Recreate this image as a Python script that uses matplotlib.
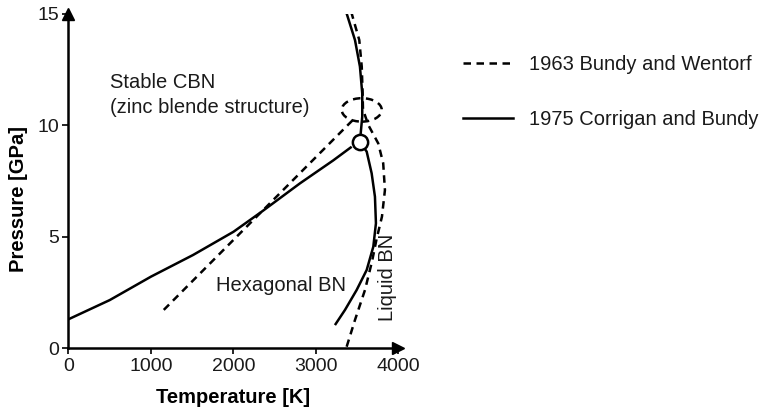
import matplotlib.pyplot as plt
from matplotlib.lines import Line2D
from matplotlib.patches import Ellipse

plt.rcParams['font.family'] = ['Liberation Sans', 'DejaVu Sans']

# 1975 Corrigan and Bundy (solid)
cb_low_T = [0, 500, 1000, 1510, 2000, 2342, 2806, 3210, 3433]
cb_low_P = [1.30, 2.16, 3.21, 4.18, 5.22, 6.12, 7.39, 8.42, 9.03]
cb_melt_T = [3230, 3352, 3493, 3615, 3695, 3727, 3715, 3675, 3615, 3533,
             3561, 3561, 3533, 3473, 3372]
cb_melt_P = [1.04, 1.72, 2.61, 3.51, 4.55, 5.60, 6.79, 7.84, 8.81, 9.26,
             10.38, 11.42, 12.62, 13.81, 15.0]
triple_T = 3533
triple_P = 9.26

# 1963 Bundy and Wentorf (dashed)
bw_line_T = [1155, 3480]
bw_line_P = [1.72, 10.35]
bw_melt_T = [3372, 3473, 3594, 3680, 3735, 3800, 3836, 3815, 3755, 3635,
             3570, 3565, 3555, 3525, 3433]
bw_melt_P = [0.07, 1.27, 2.61, 3.9, 4.9, 5.9, 7.09, 8.29, 9.18, 10.0,
             10.7, 11.5, 12.62, 13.81, 15.0]
ell_T, ell_P, ell_w, ell_h = 3555, 10.68, 485, 1.05

fig = plt.figure(figsize=(7.61, 4.13), dpi=100)
ax = fig.add_axes([0.09, 0.1567, 0.4336, 0.8106])

lw = 1.8
dash = (3, 2.2)
ax.plot(cb_low_T, cb_low_P, color='black', lw=lw, solid_capstyle='butt')
ax.plot(cb_melt_T, cb_melt_P, color='black', lw=lw, solid_capstyle='butt')
ax.plot(bw_line_T, bw_line_P, color='black', lw=lw, dashes=dash)
ax.plot(bw_melt_T, bw_melt_P, color='black', lw=lw, dashes=dash)
ax.add_patch(Ellipse((ell_T, ell_P), ell_w, ell_h, fill=False, ec='black',
                     lw=lw, ls=(0, dash)))
ax.plot(triple_T, triple_P, 'o', ms=11, mfc='white', mec='black', mew=1.8, zorder=5)

fs = 14.5
txt = dict(fontsize=fs, color='#1a1a1a')
ax.text(505, 11.93, 'Stable CBN', va='center', ha='left', **txt)
ax.text(505, 10.81, '(zinc blende structure)', va='center', ha='left', **txt)
ax.text(2582, 2.81, 'Hexagonal BN', va='center', ha='center', **txt)
ax.text(3870, 3.19, 'Liquid BN', va='center', ha='center', rotation=90, **txt)

ax.set_xlim(0, 4000)
ax.set_ylim(0, 15)
ax.spines['top'].set_visible(False)
ax.spines['right'].set_visible(False)
ax.spines['left'].set_linewidth(1.8)
ax.spines['bottom'].set_linewidth(1.8)
ax.plot(1, 0, '>k', ms=9, transform=ax.get_yaxis_transform(), clip_on=False)
ax.plot(0, 1, '^k', ms=9, transform=ax.get_xaxis_transform(), clip_on=False)

ax.set_xticks([0, 1000, 2000, 3000, 4000])
ax.set_yticks([0, 5, 10, 15])
ax.tick_params(labelsize=14, length=4, width=1.2, direction='out',
               labelcolor='#1a1a1a', pad=3)
ax.set_xlabel('Temperature [K]', fontsize=fs, fontweight='bold', labelpad=9)
ax.set_ylabel('Pressure [GPa]', fontsize=fs, fontweight='bold')
ax.yaxis.set_label_coords(-0.122, 0.446)

handles = [Line2D([], [], color='black', lw=lw, dashes=dash),
           Line2D([], [], color='black', lw=lw)]
fig.legend(handles, ['1963 Bundy and Wentorf', '1975 Corrigan and Bundy'],
           loc='upper left', bbox_to_anchor=(0.595, 0.8906), frameon=False,
           fontsize=fs, handlelength=2.5, labelspacing=1.78, handletextpad=0.8,
           borderpad=0, labelcolor='#1a1a1a')

fig.savefig('out.png', dpi=100)
